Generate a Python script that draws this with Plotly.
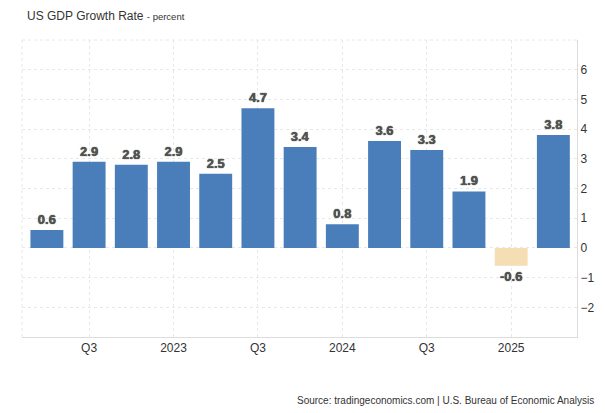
import plotly.graph_objects as go

quarters = ["Q2 2022", "Q3 2022", "Q4 2022", "Q1 2023", "Q2 2023", "Q3 2023", "Q4 2023",
            "Q1 2024", "Q2 2024", "Q3 2024", "Q4 2024", "Q1 2025", "Q2 2025"]
growth = [0.6, 2.9, 2.8, 2.9, 2.5, 4.7, 3.4, 0.8, 3.6, 3.3, 1.9, -0.6, 3.8]
tick_positions = [1, 3, 5, 7, 9, 11]
tick_labels = ["Q3", "2023", "Q3", "2024", "Q3", "2025"]

x_idx = list(range(len(quarters)))
colors = ["#4a7ebb" if v >= 0 else "#f5deb3" for v in growth]
labels = [f"{v:.1f}" for v in growth]

fig = go.Figure(go.Bar(
    x=x_idx, y=growth, width=0.78,
    marker=dict(color=colors, line=dict(width=0)),
    text=labels, textposition="outside", cliponaxis=False,
    textfont=dict(family="Arial", size=13, color="#555", weight="bold",
                  shadow="0px 0px 1px #000"),
    hovertext=quarters,
))

fig.update_layout(
    width=605, height=413,
    margin=dict(l=22, r=28, t=40, b=76),
    paper_bgcolor="white", plot_bgcolor="white",
    showlegend=False,
    bargap=0.22,
    font=dict(family="Arial", color="#333"),
    xaxis=dict(
        range=[-0.59, 12.56], tickmode="array", tickvals=tick_positions, ticktext=tick_labels,
        showgrid=True, gridcolor="#e8e8e8", griddash="dot", gridwidth=1,
        showline=True, linecolor="#dcdcdc", linewidth=1, mirror=False,
        ticks="", tickfont=dict(size=12, color="#333"), zeroline=False,
    ),
    yaxis=dict(
        range=[-3, 7], side="right", tickvals=[-2, -1, 0, 1, 2, 3, 4, 5, 6],
        showgrid=True, gridcolor="#e8e8e8", griddash="dot", gridwidth=1,
        showline=True, linecolor="#dcdcdc", linewidth=1,
        ticks="", tickfont=dict(size=12, color="#333"), zeroline=False,
    ),
    annotations=[
        dict(text="US GDP Growth Rate <span style='font-size:9.5px'>- percent</span>",
             xref="paper", yref="paper", x=0.005, y=1.0, yshift=15, xanchor="left", yanchor="bottom",
             showarrow=False, font=dict(size=12, color="#333")),
        dict(text="Source: tradingeconomics.com | U.S. Bureau of Economic Analysis",
             xref="paper", yref="paper", x=1.034, y=0, yshift=-63, xanchor="right", yanchor="middle",
             showarrow=False, font=dict(size=10, color="#333")),
    ],
    shapes=[
        dict(type="line", xref="paper", yref="paper", x0=0, x1=0, y0=0, y1=1,
             line=dict(color="#e8e8e8", width=1, dash="dot")),
        dict(type="line", xref="paper", yref="paper", x0=0, x1=1, y0=1, y1=1,
             line=dict(color="#e8e8e8", width=1, dash="dot")),
    ],
)

fig.write_html("out.html", config={"displayModeBar": False})

with open("out.html", "r", encoding="utf-8") as f:
    html = f.read()
html = html.replace("<body>", "<body style=\"margin:0;padding:0;overflow:hidden\">", 1)
with open("out.html", "w", encoding="utf-8") as f:
    f.write(html)
